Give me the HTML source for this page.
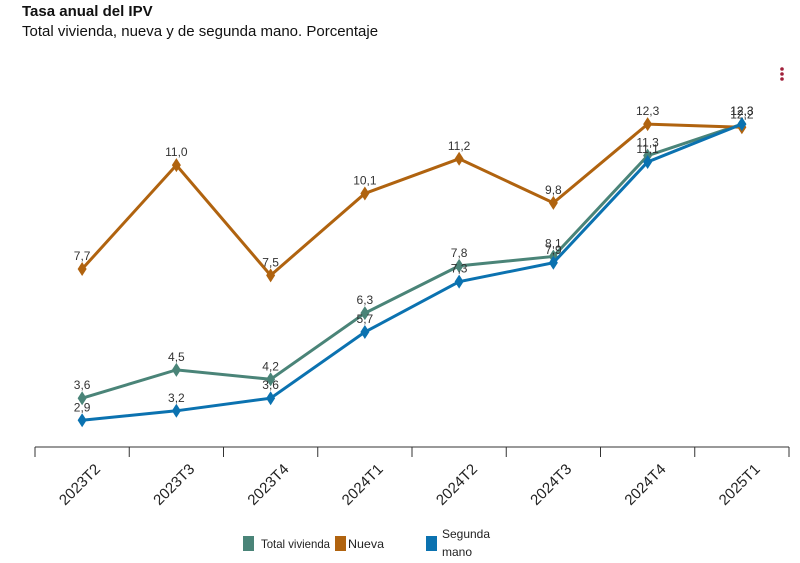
<!DOCTYPE html>
<html><head><meta charset="utf-8"><style>
body{margin:0;width:800px;height:563px;background:#fff;font-family:"Liberation Sans",sans-serif;overflow:hidden;position:relative}
.t{position:absolute;left:22px;top:3px;font-size:15px;font-weight:bold;color:#111}
.s{position:absolute;left:22px;top:23px;font-size:15px;color:#111}
</style></head><body>
<div class="t">Tasa anual del IPV</div>
<div class="s">Total vivienda, nueva y de segunda mano. Porcentaje</div>
<svg id="c" width="800" height="563" style="position:absolute;left:0;top:0">
<g fill="#a0203a"><circle cx="782" cy="69" r="1.8"/><circle cx="782" cy="74" r="1.8"/><circle cx="782" cy="79" r="1.8"/></g>
</svg>
<script>
const categories=["2023T2","2023T3","2023T4","2024T1","2024T2","2024T3","2024T4","2025T1"];
const totalVivienda=[3.6,4.5,4.2,6.3,7.8,8.1,11.3,12.3];
const nueva=[7.7,11.0,7.5,10.1,11.2,9.8,12.3,12.2];
const segundaMano=[2.9,3.2,3.6,5.7,7.3,7.9,11.1,12.3];
const seriesNames=["Total vivienda","Nueva","Segunda mano"];
const svg=document.getElementById('c');const NS="http://www.w3.org/2000/svg";
const x0=35,x1=789,step=(x1-x0)/categories.length;
const xs=i=>x0+step*(i+0.5);
const ys=v=>511.6-31.5*v;
function el(t,a,p){const e=document.createElementNS(NS,t);for(const k in a)e.setAttribute(k,a[k]);(p||svg).appendChild(e);return e;}
const ax=el('g',{});


el('line',{x1:x0,x2:x1,y1:447,y2:447,stroke:'#333','stroke-width':1},ax);
for(let i=0;i<=categories.length;i++){el('line',{x1:x0+step*i,x2:x0+step*i,y1:447,y2:457,stroke:'#333'},ax);}
categories.forEach((c,i)=>{const ax_=xs(i)+19,ay=470;const t=el('text',{x:ax_,y:ay,'font-size':15,fill:'#222','text-anchor':'end',transform:`rotate(-45 ${ax_} ${ay})`},ax);t.textContent=c;

});
const series=[[totalVivienda,'#4a8478','total-vivienda'],[nueva,'#b0630f','nueva'],[segundaMano,'#0b72b0','segunda-mano']];
series.forEach(([d,col,nm])=>{const g=el('g',{});


el('polyline',{points:d.map((v,i)=>xs(i)+','+ys(v)).join(' '),fill:'none',stroke:col,'stroke-width':3},g);
d.forEach((v,i)=>{const x=xs(i),y=ys(v);const p=el('path',{d:`M${x} ${y-7}L${x+4.5} ${y}L${x} ${y+7}L${x-4.5} ${y}Z`,fill:col},g);


const t=el('text',{x:x,y:y-9,'font-size':12,fill:'#333','text-anchor':'middle'},g);t.textContent=v.toFixed(1).replace('.',',');

});});
const lg=el('g',{});


[[243,'#4a8478',261,69],[335,'#b0630f',348,36],[426,'#0b72b0',442,48]].forEach(([x,c,tx,w],k)=>{el('rect',{x:x,y:536,width:11,height:15,fill:c},lg);
if(k<2){const t=el('text',{x:tx,y:548,'font-size':12,fill:'#222',textLength:w,lengthAdjust:'spacingAndGlyphs'},lg);t.textContent=seriesNames[k];

}
else{const t=el('text',{x:tx,y:538,'font-size':12,fill:'#222',textLength:w,lengthAdjust:'spacingAndGlyphs'},lg);t.textContent='Segunda';


const t2=el('text',{x:tx,y:556,'font-size':12,fill:'#222',textLength:30,lengthAdjust:'spacingAndGlyphs'},lg);t2.textContent='mano';

}});
</script>
</body></html>
